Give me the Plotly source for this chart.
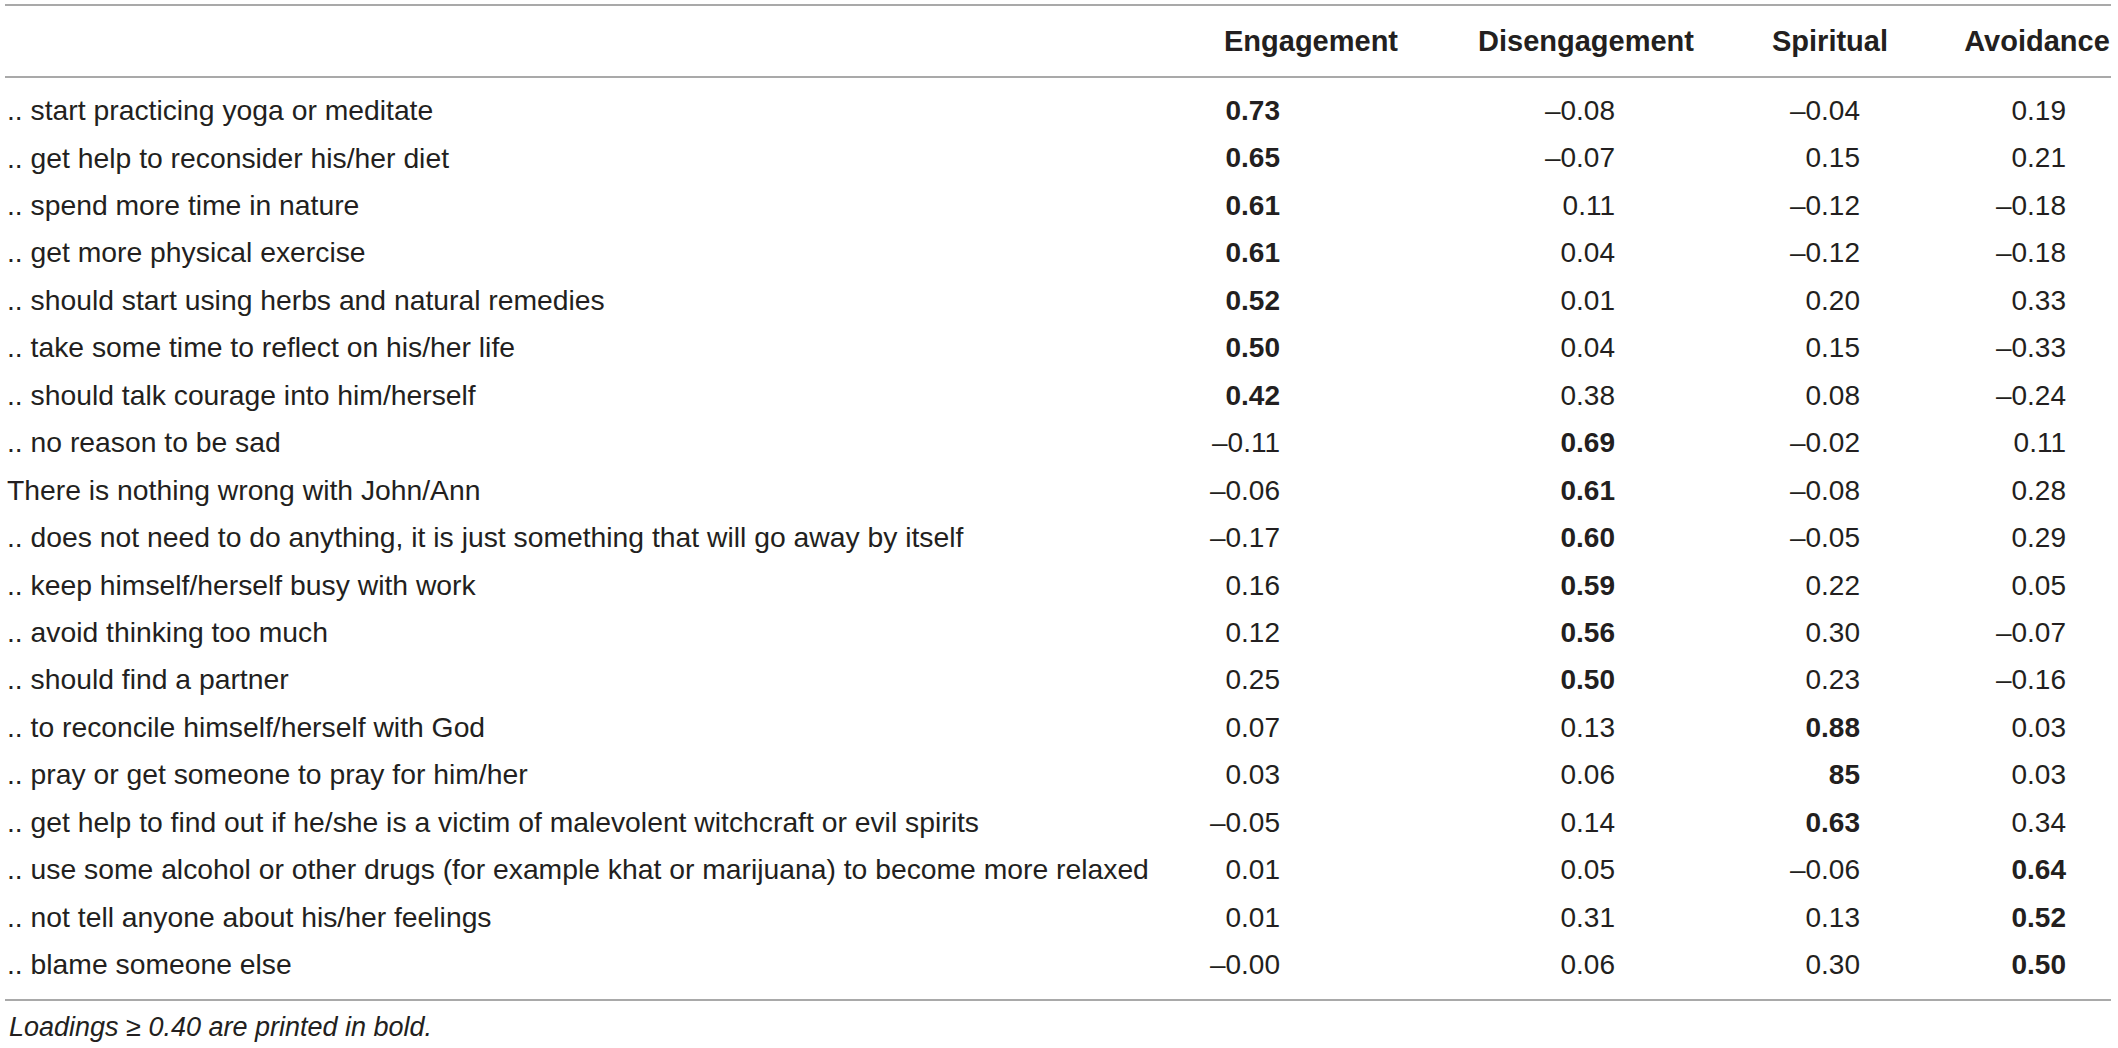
import plotly.graph_objects as go

# table content
items = [
    ".. start practicing yoga or meditate",
    ".. get help to reconsider his/her diet",
    ".. spend more time in nature",
    ".. get more physical exercise",
    ".. should start using herbs and natural remedies",
    ".. take some time to reflect on his/her life",
    ".. should talk courage into him/herself",
    ".. no reason to be sad",
    "There is nothing wrong with John/Ann",
    ".. does not need to do anything, it is just something that will go away by itself",
    ".. keep himself/herself busy with work",
    ".. avoid thinking too much",
    ".. should find a partner",
    ".. to reconcile himself/herself with God",
    ".. pray or get someone to pray for him/her",
    ".. get help to find out if he/she is a victim of malevolent witchcraft or evil spirits",
    ".. use some alcohol or other drugs (for example khat or marijuana) to become more relaxed",
    ".. not tell anyone about his/her feelings",
    ".. blame someone else",
]
headers = ["Engagement", "Disengagement", "Spiritual", "Avoidance"]

# loadings as printed in the table
engagement = ["0.73", "0.65", "0.61", "0.61", "0.52", "0.50", "0.42", "–0.11", "–0.06", "–0.17",
              "0.16", "0.12", "0.25", "0.07", "0.03", "–0.05", "0.01", "0.01", "–0.00"]
disengagement = ["–0.08", "–0.07", "0.11", "0.04", "0.01", "0.04", "0.38", "0.69", "0.61", "0.60",
                 "0.59", "0.56", "0.50", "0.13", "0.06", "0.14", "0.05", "0.31", "0.06"]
spiritual = ["–0.04", "0.15", "–0.12", "–0.12", "0.20", "0.15", "0.08", "–0.02", "–0.08", "–0.05",
             "0.22", "0.30", "0.23", "0.88", "85", "0.63", "–0.06", "0.13", "0.30"]
avoidance = ["0.19", "0.21", "–0.18", "–0.18", "0.33", "–0.33", "–0.24", "0.11", "0.28", "0.29",
             "0.05", "–0.07", "–0.16", "0.03", "0.03", "0.34", "0.64", "0.52", "0.50"]

note = "Loadings ≥ 0.40 are printed in bold."

# page geometry (pixels)
W, H = 2118, 1048
row0, row_step = 113, 47.45
col_right = [1280, 1615, 1860, 2066]
head_mid = [1311, 1586, 1830, 2037]
FONT = "Liberation Sans, Arial, sans-serif"
INK = "#231f20"
RULE = "#a9a9a9"


def ypos(pix):
    return (pix - row0) / row_step


def as_num(s):
    return float(s.replace("–", "-"))


def cell(s):
    return f"<b>{s}</b>" if as_num(s) >= 0.40 else s


rows = list(range(len(items)))

fig = go.Figure()

fig.add_trace(go.Scatter(
    x=[7] * len(items), y=rows, text=items, mode="text",
    textposition="middle right", cliponaxis=False, hoverinfo="skip",
    textfont=dict(family=FONT, size=28.3, color=INK),
))

for col, xr in zip([engagement, disengagement, spiritual, avoidance], col_right):
    fig.add_trace(go.Scatter(
        x=[xr] * len(col), y=rows, text=[cell(v) for v in col], mode="text",
        textposition="middle left", cliponaxis=False, hoverinfo="skip",
        textfont=dict(family=FONT, size=28, color=INK),
    ))

fig.add_trace(go.Scatter(
    x=head_mid, y=[ypos(44)] * len(headers), text=[f"<b>{h}</b>" for h in headers],
    mode="text", textposition="middle center", cliponaxis=False, hoverinfo="skip",
    textfont=dict(family=FONT, size=29, color=INK),
))

for pix in [5, 77, 1000]:
    fig.add_shape(type="line", xref="x", yref="y", x0=5, x1=2111,
                  y0=ypos(pix), y1=ypos(pix), line=dict(color=RULE, width=2))

fig.add_annotation(x=7, y=ypos(1027), xref="x", yref="y", text=f"<i>{note}</i>",
                   showarrow=False, xanchor="left", yanchor="middle",
                   font=dict(family=FONT, size=27, color=INK))

fig.update_layout(
    width=W, height=H,
    margin=dict(l=0, r=0, t=0, b=0),
    paper_bgcolor="white", plot_bgcolor="white",
    showlegend=False,
    xaxis=dict(range=[0, W], visible=False, fixedrange=True),
    yaxis=dict(range=[ypos(H), ypos(0)], visible=False, fixedrange=True),
)

fig.write_html("out.html", config={"displayModeBar": False},
               post_script="document.body.style.margin = '0';")
